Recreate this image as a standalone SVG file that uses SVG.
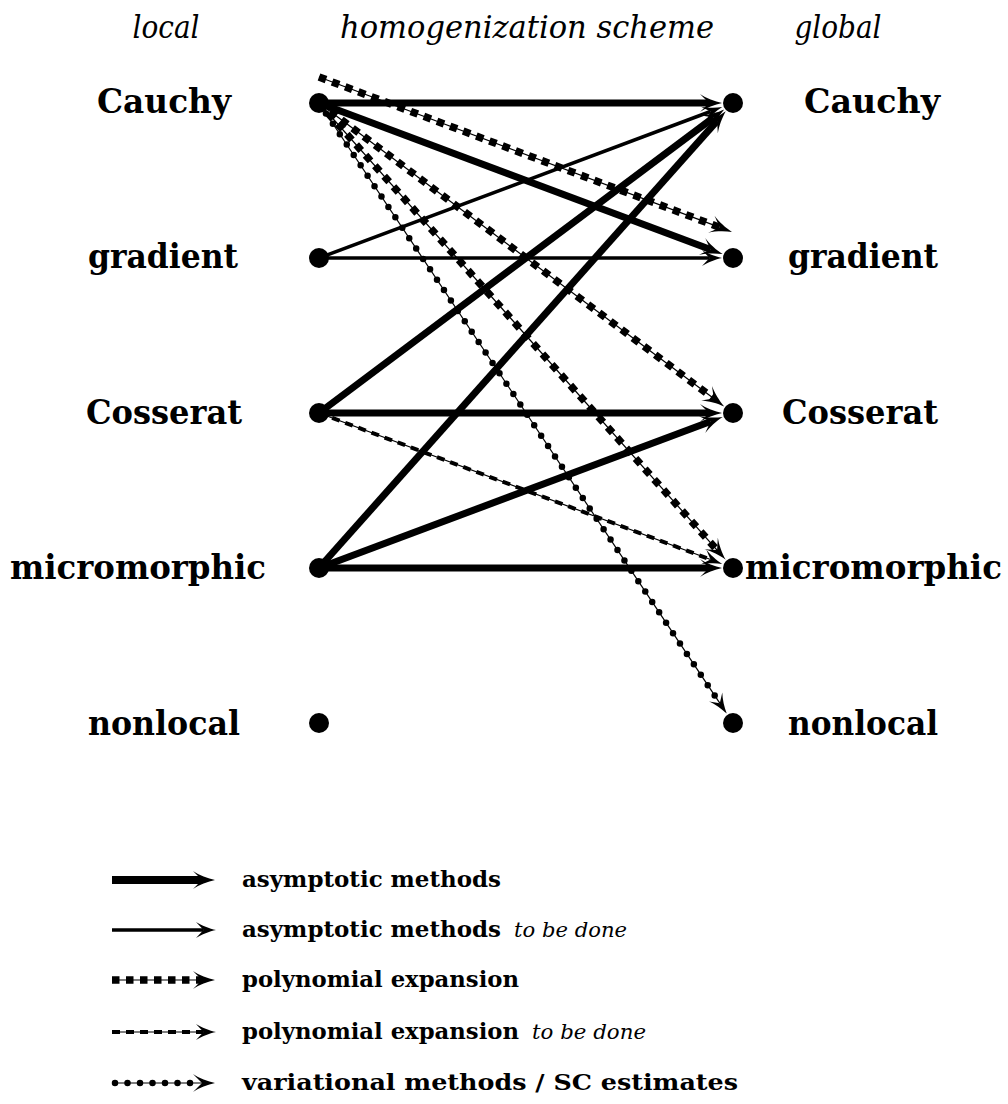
<svg xmlns="http://www.w3.org/2000/svg" width="1008" height="1104" viewBox="0 0 1008 1104">
<style>
.hd{font-family:"DejaVu Serif","Liberation Serif",serif;font-style:italic;font-size:32px;fill:#000}
.lb{font-family:"DejaVu Serif","Liberation Serif",serif;font-weight:bold;font-size:33px;fill:#000}
.lg{font-family:"DejaVu Serif","Liberation Serif",serif;font-weight:bold;font-size:22px;fill:#000}
.lgi{font-family:"DejaVu Serif","Liberation Serif",serif;font-style:italic;font-size:21px;fill:#000}
.thick{stroke:#000;stroke-width:7;fill:none;marker-end:url(#big)}
.thin{stroke:#000;stroke-width:3.5;fill:none;marker-end:url(#small)}
.base{stroke:#000;stroke-width:1.2;fill:none}
.bigb{marker-end:url(#big)}
.smallb{marker-end:url(#small)}
.dthick{stroke:#000;stroke-width:7.5;stroke-dasharray:7.5 6.5;fill:none}
.dthin{stroke:#000;stroke-width:4;stroke-dasharray:8 6;fill:none}
.dot{stroke:#000;stroke-width:6.5;stroke-dasharray:0 12.5;stroke-linecap:round;fill:none}
.node{fill:#000}
</style>
<defs>
<marker id="big" markerUnits="userSpaceOnUse" viewBox="0 -10 23 20" refX="9" refY="0" markerWidth="23" markerHeight="20" orient="auto">
<path d="M22,0 C15,-1.5 6,-5 0,-9 L9,0 L0,9 C6,5 15,1.5 22,0 Z" fill="#000"/>
</marker>
<marker id="small" markerUnits="userSpaceOnUse" viewBox="0 -9 21 18" refX="7.5" refY="0" markerWidth="21" markerHeight="18" orient="auto">
<path d="M20,0 C13.5,-1.4 5.5,-4.5 0,-8 L7.5,0 L0,8 C5.5,4.5 13.5,1.4 20,0 Z" fill="#000"/>
</marker>
</defs>
<rect width="1008" height="1104" fill="#fff"/>

<g id="headers">
<text class="hd" x="166" y="38" text-anchor="middle" textLength="67" lengthAdjust="spacingAndGlyphs">local</text>
<text class="hd" x="527" y="38" text-anchor="middle" textLength="374" lengthAdjust="spacingAndGlyphs">homogenization scheme</text>
<text class="hd" x="838" y="38" text-anchor="middle" textLength="87" lengthAdjust="spacingAndGlyphs">global</text>
</g>

<g id="connectors">
<line class="thick" x1="319" y1="103" x2="709" y2="103"/>
<line class="thick" x1="319" y1="103" x2="710.5" y2="249.5"/>
<line class="dthick" x1="319" y1="77" x2="719.8" y2="227.4"/>
<line class="base bigb" x1="319" y1="77" x2="719.8" y2="227.4"/>
<line class="dthick" x1="319" y1="103" x2="713.8" y2="398.6"/>
<line class="base bigb" x1="319" y1="103" x2="713.8" y2="398.6"/>
<line class="dthick" x1="319" y1="103" x2="717.1" y2="550.1"/>
<line class="base bigb" x1="319" y1="103" x2="717.1" y2="550.1"/>
<line class="dot" x1="319" y1="103" x2="719.8" y2="703.2"/>
<line class="base smallb" x1="319" y1="103" x2="719.8" y2="703.2"/>
<line class="thin" x1="319" y1="258" x2="710.5" y2="111.5"/>
<line class="thin" x1="319" y1="258" x2="709.5" y2="258"/>
<line class="thick" x1="319" y1="413" x2="713.8" y2="117.4"/>
<line class="thick" x1="319" y1="413" x2="709" y2="413"/>
<line class="dthin" x1="319" y1="413" x2="710.5" y2="559.5"/>
<line class="base smallb" x1="319" y1="413" x2="710.5" y2="559.5"/>
<line class="thick" x1="319" y1="568" x2="717.1" y2="120.9"/>
<line class="thick" x1="319" y1="568" x2="710.5" y2="421.5"/>
<line class="thick" x1="319" y1="568" x2="709" y2="568"/>
</g>

<g id="local-cauchy"><circle class="node" cx="319" cy="103" r="10"/><text class="lb" x="164" y="113" text-anchor="middle" textLength="134" lengthAdjust="spacingAndGlyphs">Cauchy</text></g>
<g id="local-gradient"><circle class="node" cx="319" cy="258" r="10"/><text class="lb" x="163" y="268" text-anchor="middle" textLength="150" lengthAdjust="spacingAndGlyphs">gradient</text></g>
<g id="local-cosserat"><circle class="node" cx="319" cy="413" r="10"/><text class="lb" x="164" y="424" text-anchor="middle" textLength="156" lengthAdjust="spacingAndGlyphs">Cosserat</text></g>
<g id="local-micromorphic"><circle class="node" cx="319" cy="568" r="10"/><text class="lb" x="138" y="579" text-anchor="middle" textLength="256" lengthAdjust="spacingAndGlyphs">micromorphic</text></g>
<g id="local-nonlocal"><circle class="node" cx="319" cy="723" r="10"/><text class="lb" x="164" y="735" text-anchor="middle" textLength="152" lengthAdjust="spacingAndGlyphs">nonlocal</text></g>

<g id="global-cauchy"><circle class="node" cx="733" cy="103" r="10"/><text class="lb" x="872" y="113" text-anchor="middle" textLength="136" lengthAdjust="spacingAndGlyphs">Cauchy</text></g>
<g id="global-gradient"><circle class="node" cx="733" cy="258" r="10"/><text class="lb" x="863" y="268" text-anchor="middle" textLength="150" lengthAdjust="spacingAndGlyphs">gradient</text></g>
<g id="global-cosserat"><circle class="node" cx="733" cy="413" r="10"/><text class="lb" x="860" y="424" text-anchor="middle" textLength="156" lengthAdjust="spacingAndGlyphs">Cosserat</text></g>
<g id="global-micromorphic"><circle class="node" cx="733" cy="568" r="10"/><text class="lb" x="873.5" y="579" text-anchor="middle" textLength="257" lengthAdjust="spacingAndGlyphs">micromorphic</text></g>
<g id="global-nonlocal"><circle class="node" cx="733" cy="723" r="10"/><text class="lb" x="863" y="735" text-anchor="middle" textLength="150" lengthAdjust="spacingAndGlyphs">nonlocal</text></g>

<g id="legend">
<line class="thick" x1="112" y1="880" x2="202" y2="880" style="stroke-width:8"/>
<text class="lg" x="242" y="887" textLength="259" lengthAdjust="spacingAndGlyphs">asymptotic methods</text>

<line class="thin" x1="112" y1="930" x2="203.5" y2="930"/>
<text class="lg" x="242" y="937" textLength="259" lengthAdjust="spacingAndGlyphs">asymptotic methods</text>
<text class="lgi" x="514" y="937" textLength="113" lengthAdjust="spacingAndGlyphs">to be done</text>

<line class="dthick" x1="112" y1="980" x2="202" y2="980"/>
<line class="base bigb" x1="112" y1="980" x2="202" y2="980"/>
<text class="lg" x="242" y="987" textLength="277" lengthAdjust="spacingAndGlyphs">polynomial expansion</text>

<line class="dthin" x1="112" y1="1032" x2="203.5" y2="1032"/>
<line class="base smallb" x1="112" y1="1032" x2="203.5" y2="1032"/>
<text class="lg" x="242" y="1039" textLength="277" lengthAdjust="spacingAndGlyphs">polynomial expansion</text>
<text class="lgi" x="532" y="1039" textLength="114" lengthAdjust="spacingAndGlyphs">to be done</text>

<line class="dot" x1="115" y1="1083" x2="202" y2="1083"/>
<line class="base bigb" x1="112" y1="1083" x2="202" y2="1083"/>
<text class="lg" x="242" y="1090" textLength="496" lengthAdjust="spacingAndGlyphs">variational methods / SC estimates</text>
</g>
</svg>
